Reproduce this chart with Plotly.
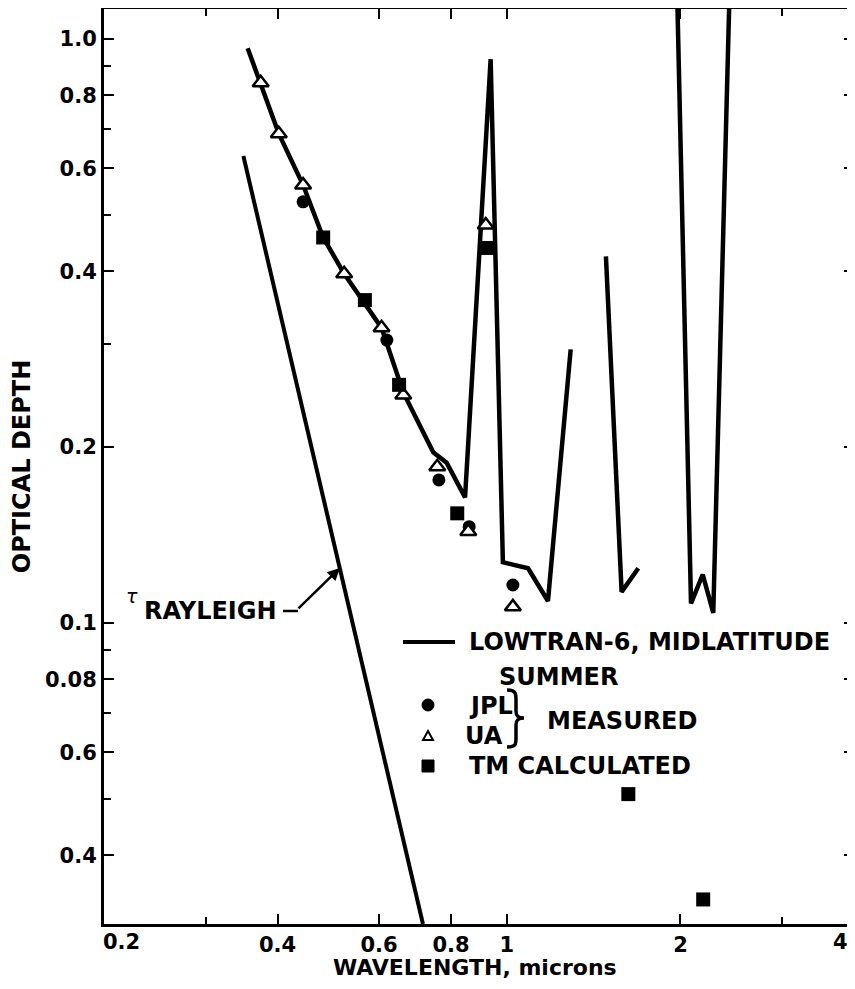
import plotly.graph_objects as go
import numpy as np

# ---------------- data ----------------
lowtran_wl = [0.355, 0.374, 0.402, 0.443, 0.480, 0.522, 0.606, 0.661, 0.745, 0.786, 0.846,
              0.937, 0.984, 1.088, 1.178, 1.290, None,
              1.485, 1.581, 1.690, None,
              1.966, 2.086, 2.186, 2.280, 2.444]
lowtran_tau = [0.964, 0.841, 0.688, 0.562, 0.457, 0.396, 0.320, 0.248, 0.196, 0.188, 0.164,
               0.923, 0.127, 0.124, 0.109, 0.294, None,
               0.424, 0.113, 0.124, None,
               1.42, 0.108, 0.121, 0.104, 1.42]

rayleigh_wl = [0.349, 0.715]
rayleigh_tau = [0.630, 0.0305]

jpl_wl = [0.443, 0.619, 0.762, 0.860, 1.024]
jpl_tau = [0.526, 0.305, 0.1757, 0.1461, 0.1161]

ua_wl = [0.374, 0.402, 0.443, 0.522, 0.606, 0.661, 0.757, 0.857, 0.919, 1.024]
ua_tau = [0.841, 0.688, 0.562, 0.396, 0.320, 0.2456, 0.1851, 0.1433, 0.480, 0.1065]

tm_wl = [0.480, 0.567, 0.650, 0.820, 0.927, 1.624, 2.190]
tm_tau = [0.457, 0.357, 0.2556, 0.154, 0.4385, 0.0509, 0.0336]

x_tickvals = [0.2, 0.4, 0.6, 0.8, 1, 2, 4]
x_ticktext = ["0.2", "0.4", "0.6", "0.8", "1", "2", "4"]
x_minor = [0.3, 3]

y_tickvals = [0.04, 0.06, 0.08, 0.1, 0.2, 0.4, 0.6, 0.8, 1.0]
y_ticktext = ["0.4", "0.6", "0.08", "0.1", "0.2", "0.4", "0.6", "0.8", "1.0"]
y_minor = [0.05, 0.07, 0.09, 0.3, 0.5, 0.7, 0.9]

x_title = "WAVELENGTH, microns"
y_title = "OPTICAL DEPTH"
legend_line_label = ["LOWTRAN-6, MIDLATITUDE", "SUMMER"]
legend_labels = ["JPL", "UA", "TM CALCULATED"]
brace_label = "MEASURED"

# ---------------- layout geometry ----------------
OFF = 8                      # page body margin in the browser
W, H = 855 - OFF, 989 - 2 * OFF - 2
P_L, P_R, P_T, P_B = 104, 854, 9, 924   # plot box in page pixels
ML, MT = P_L - OFF, P_T - OFF
MR = W - (P_R - OFF)
MB = H - (P_B - OFF)
PW, PH = P_R - P_L, P_B - P_T


def px_x(p):
    return (p - P_L) / PW


def px_y(p):
    return (P_B - p) / PH


FONT = "DejaVu Sans"
BOLD24 = dict(family=FONT, size=24, color="black", weight="bold")
TICKFONT = dict(family=FONT, size=21, color="black", weight="bold")

fig = go.Figure()

fig.add_trace(go.Scatter(x=rayleigh_wl, y=rayleigh_tau, mode="lines",
                         line=dict(color="black", width=4), showlegend=False,
                         hoverinfo="skip"))
fig.add_trace(go.Scatter(x=lowtran_wl, y=lowtran_tau, mode="lines",
                         line=dict(color="black", width=4.5),
                         name=" ".join(legend_line_label), connectgaps=False))
fig.add_trace(go.Scatter(x=jpl_wl, y=jpl_tau, mode="markers", name=legend_labels[0],
                         marker=dict(symbol="circle", size=13, color="black")))
fig.add_trace(go.Scatter(x=ua_wl, y=ua_tau, mode="markers", name=legend_labels[1],
                         marker=dict(symbol="triangle-up", size=14, color="white",
                                     line=dict(color="black", width=2.5))))
fig.add_trace(go.Scatter(x=tm_wl, y=tm_tau, mode="markers", name=legend_labels[2],
                         marker=dict(symbol="square", size=14, color="black")))

axis_common = dict(
    type="log", automargin=False,
    showline=True, linecolor="black", linewidth=3, mirror="ticks",
    ticks="inside", ticklen=10, tickwidth=2, tickcolor="black",
    showgrid=False, zeroline=False, tickfont=TICKFONT,
)

# the end labels of the x axis sit inside the frame in the reference: draw them as text
x_ticktext_axis = [""] + x_ticktext[1:-1] + [""]

fig.update_xaxes(
    **axis_common,
    range=[np.log10(0.2), np.log10(4)],
    tickmode="array", tickvals=x_tickvals, ticktext=x_ticktext_axis,
    minor=dict(tickmode="array", tickvals=x_minor, ticks="inside", ticklen=7,
               tickwidth=2, tickcolor="black", showgrid=False),
)
fig.update_yaxes(
    **axis_common,
    range=[np.log10(0.0305), np.log10(1.125)],
    tickmode="array", tickvals=y_tickvals, ticktext=y_ticktext,
    minor=dict(tickmode="array", tickvals=y_minor, ticks="inside", ticklen=7,
               tickwidth=2, tickcolor="black", showgrid=False),
    title=dict(text=y_title, standoff=14, font=BOLD24),
)


def txt(s, x, y, font=BOLD24, xanchor="left", **kw):
    return dict(text=s, xref="paper", yref="paper", x=px_x(x), y=px_y(y),
                showarrow=False, font=font, xanchor=xanchor, yanchor="middle", **kw)


# arrow head on the Rayleigh line
head_wl, head_tau = 0.5133, 0.1242

annotations = [
    txt(x_ticktext[0], 101, 942, font=TICKFONT),
    txt(x_ticktext[-1], 850, 942, font=TICKFONT, xanchor="right"),
    txt(x_title, 475, 967.5, font=dict(family=FONT, size=22, color="black", weight="bold"),
        xanchor="center"),
    txt("<i>τ</i>", 132, 596, font=dict(family=FONT, size=19, color="black"),
        xanchor="center"),
    txt("RAYLEIGH", 142, 611),
    dict(text="", x=np.log10(head_wl), y=np.log10(head_tau), xref="x", yref="y",
         showarrow=True, arrowhead=2, arrowsize=1, arrowwidth=2.5, arrowcolor="black",
         ax=-43, ay=42, standoff=0),
    # hand-made legend text
    txt(legend_line_label[0], 467, 642),
    txt(legend_line_label[1], 497, 677),
    txt(legend_labels[0], 467, 706),
    txt(legend_labels[1], 463, 736),
    txt(legend_labels[2], 467, 766),
    txt(brace_label, 545, 721),
]


def P(x, y):
    return f"{px_x(x):.5f},{px_y(y):.5f}"


brace_path = ("M " + P(507, 690) + " C " + P(516, 690) + " " + P(516, 694) + " " + P(516, 700)
              + " L " + P(516, 711) + " C " + P(516, 716) + " " + P(518, 718) + " " + P(524, 718)
              + " C " + P(518, 718) + " " + P(516, 720) + " " + P(516, 725)
              + " L " + P(516, 738) + " C " + P(516, 744) + " " + P(516, 747) + " " + P(507, 747))

shapes = [
    # leader dash after RAYLEIGH
    dict(type="line", xref="paper", yref="paper", x0=px_x(283), x1=px_x(298),
         y0=px_y(611), y1=px_y(611), line=dict(color="black", width=2.5)),
    dict(type="line", xref="paper", yref="paper", x0=px_x(403), x1=px_x(455),
         y0=px_y(642), y1=px_y(642), line=dict(color="black", width=4)),
    dict(type="circle", xref="paper", yref="paper", x0=px_x(422), x1=px_x(434),
         y0=px_y(699), y1=px_y(711), fillcolor="black", line=dict(color="black", width=1)),
    dict(type="path", xref="paper", yref="paper",
         path="M " + P(423, 740) + " L " + P(433, 740) + " L " + P(428, 731) + " Z",
         fillcolor="white", line=dict(color="black", width=2)),
    dict(type="rect", xref="paper", yref="paper", x0=px_x(422), x1=px_x(434),
         y0=px_y(760), y1=px_y(772), fillcolor="black", line=dict(color="black", width=1)),
    dict(type="path", xref="paper", yref="paper", path=brace_path,
         line=dict(color="black", width=3.5)),
]

fig.update_layout(
    width=W, height=H, autosize=False,
    margin=dict(l=ML, r=MR, t=MT, b=MB, pad=0),
    paper_bgcolor="white", plot_bgcolor="white",
    annotations=annotations, shapes=shapes,
    showlegend=False,
)

fig.write_html("out.html")
